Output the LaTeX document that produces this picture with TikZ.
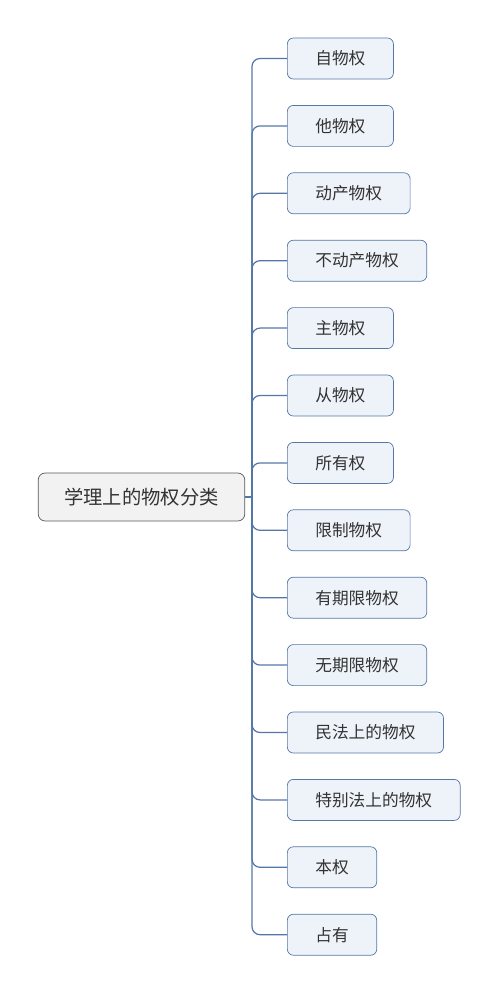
\documentclass[tikz,border=0pt]{standalone}
\usepackage{fontspec}
\newfontfamily\cjk{Noto Sans CJK SC}
\definecolor{leafblue}{HTML}{EEF3FA}
\definecolor{edgeblue}{HTML}{5478A6}
\definecolor{rootgray}{HTML}{F2F2F2}
\tikzset{
  leaf/.style={draw=edgeblue, fill=leafblue, rounded corners=0.12cm, anchor=west,
    minimum height=0.82cm, inner xsep=0.56cm, font=\cjk\fontsize{9.5}{11}\selectfont, text=black!80},
  root/.style={draw=black!65, fill=rootgray, rounded corners=0.14cm,
    minimum height=0.96cm, inner xsep=0.52cm, font=\cjk\fontsize{11}{13}\selectfont, text=black!80},
  link/.style={draw=edgeblue, line width=0.7pt, rounded corners=0.16cm}
}
\begin{document}
\begin{tikzpicture}[x=0.02cm, y=-0.02cm]
\useasboundingbox (0,0) rectangle (497,993);
\node[root] (lid0) at (141.5,497){学理上的物权分类};
\coordinate (hub) at (252,497);

\node[leaf] (lid1) at (287,58.5){自物权};
\node[leaf] (lid2) at (287,125.9){他物权};
\node[leaf] (lid3) at (287,193.3){动产物权};
\node[leaf] (lid4) at (287,260.7){不动产物权};
\node[leaf] (lid5) at (287,328.1){主物权};
\node[leaf] (lid6) at (287,395.5){从物权};
\node[leaf] (lid7) at (287,462.9){所有权};
\node[leaf] (lid8) at (287,530.3){限制物权};
\node[leaf] (lid9) at (287,597.7){有期限物权};
\node[leaf] (lid10) at (287,665.1){无期限物权};
\node[leaf] (lid11) at (287,732.5){民法上的物权};
\node[leaf] (lid12) at (287,799.9){特别法上的物权};
\node[leaf] (lid13) at (287,867.3){本权};
\node[leaf] (lid14) at (287,934.7){占有};

\draw[link](lid0) -- (hub);
\draw[link](hub) |- (lid1.west);
\draw[link](hub) |- (lid2.west);
\draw[link](hub) |- (lid3.west);
\draw[link](hub) |- (lid4.west);
\draw[link](hub) |- (lid5.west);
\draw[link](hub) |- (lid6.west);
\draw[link](hub) |- (lid7.west);
\draw[link](hub) |- (lid8.west);
\draw[link](hub) |- (lid9.west);
\draw[link](hub) |- (lid10.west);
\draw[link](hub) |- (lid11.west);
\draw[link](hub) |- (lid12.west);
\draw[link](hub) |- (lid13.west);
\draw[link](hub) |- (lid14.west);

\end{tikzpicture}
\end{document}
